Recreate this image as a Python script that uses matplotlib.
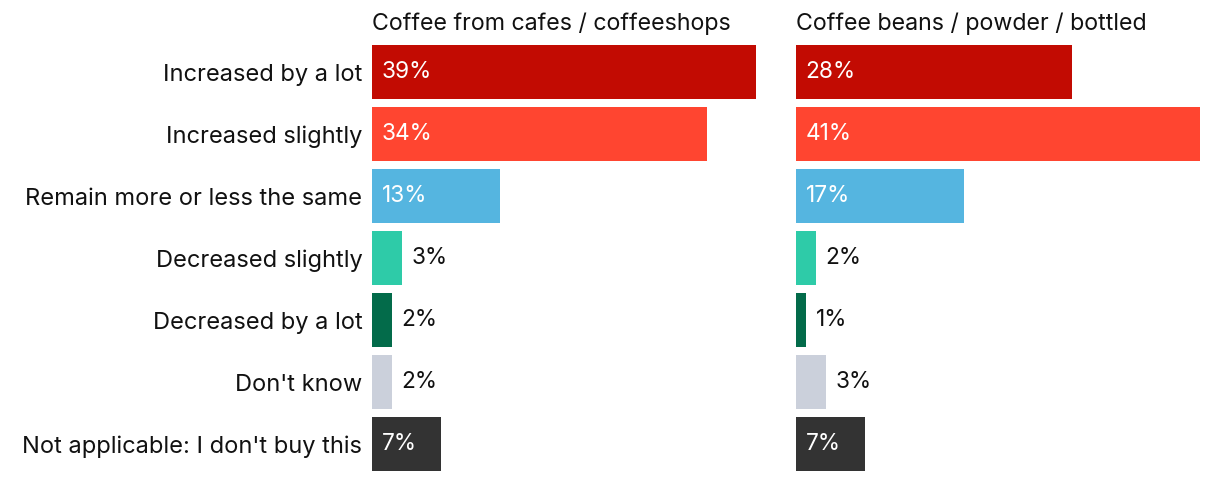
import matplotlib
matplotlib.use('Agg')
from matplotlib import pyplot as plt

plt.rcParams['font.family'] = ['Inter', 'DejaVu Sans']

categories = ['Increased by a lot', 'Increased slightly', 'Remain more or less the same',
              'Decreased slightly', 'Decreased by a lot', "Don't know",
              "Not applicable: I don't buy this"]
cafes = [39, 34, 13, 3, 2, 2, 7]
beans = [28, 41, 17, 2, 1, 3, 7]
titles = ['Coffee from cafes / coffeeshops', 'Coffee beans / powder / bottled']
colors = ['#C20B02', '#FF4530', '#55B5E0', '#2ECBA8', '#036B4A', '#CBD0DB', '#333333']

fig = plt.figure(figsize=(12.2, 4.82), dpi=100)
W, H = 1220, 482
ax1 = fig.add_axes([372 / W, 1 - 475 / H, 404 / W, 434 / H])
ax2 = fig.add_axes([796 / W, 1 - 475 / H, 404 / W, 434 / H])

for ax, vals, title in [(ax1, cafes, titles[0]), (ax2, beans, titles[1])]:
    y = list(range(len(categories)))
    ax.barh(y, vals, height=0.87, color=colors)
    ax.set_xlim(0, 41)
    ax.set_ylim(len(categories) - 0.5, -0.5)
    for i, v in enumerate(vals):
        if v >= 5:
            ax.annotate('%d%%' % v, (0, i), xytext=(7, 0), textcoords='offset points',
                        ha='left', va='center', color='white', fontsize=16.3)
        else:
            ax.annotate('%d%%' % v, (v, i), xytext=(7, 0), textcoords='offset points',
                        ha='left', va='center', color='#111111', fontsize=16.3)
    ax.text(0, 1.014, title, transform=ax.transAxes, ha='left', va='bottom',
            fontsize=16.7, color='#111111')
    for s in ax.spines.values():
        s.set_visible(False)
    ax.set_xticks([])
    ax.tick_params(axis='y', length=0, pad=7, labelsize=17, labelcolor='#111111')
    ax.set_yticks(y)

ax1.set_yticklabels(categories)
ax2.set_yticklabels([])

fig.savefig('out.png', dpi=100)
